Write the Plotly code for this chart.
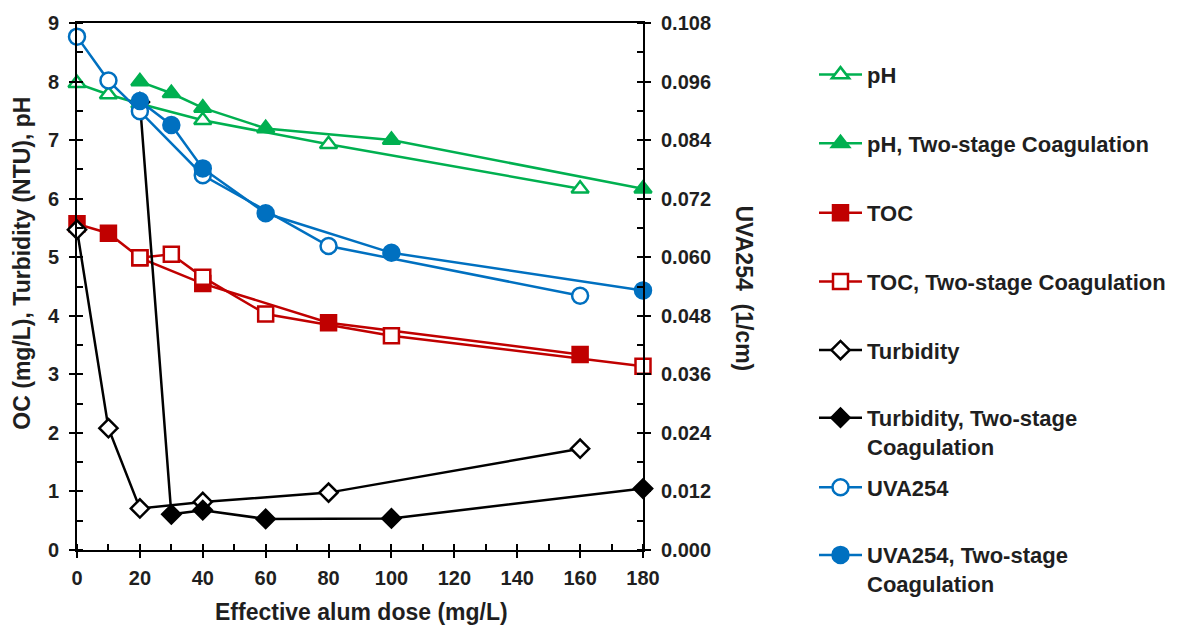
import plotly.graph_objects as go

# Effective alum doses (mg/L)
dose_single = [0, 10, 20, 40, 80, 160]
dose_two = [20, 30, 40, 60, 100, 180]

# pH
ph_single = [7.97, 7.78, 7.62, 7.34, 6.93, 6.17]
ph_two = [8.0, 7.8, 7.55, 7.2, 7.0, 6.17]

# TOC (mg/L)
toc_single = [5.57, 5.41, 4.99, 4.55, 3.88, 3.34]
toc_two = [4.99, 5.05, 4.66, 4.03, 3.66, 3.14]

# Turbidity (NTU)
turb_single = [5.47, 2.08, 0.71, 0.82, 0.98, 1.73]
turb_two = [7.65, 0.61, 0.68, 0.53, 0.54, 1.05]

# UVA254 (1/cm)
uva_single = [0.1052, 0.0962, 0.0899, 0.0768, 0.0623, 0.0521]
uva_two = [0.0920, 0.0871, 0.0782, 0.0690, 0.0609, 0.0532]

GREEN = "#00B050"
RED = "#C00000"
BLUE = "#0070C0"
BLACK = "#000000"
TEXT = "#1F1F1F"
FONT = "Liberation Sans, Arial, sans-serif"

W, H = 1199, 630
L, R, T, B = 77, 643, 20, 550
pw, ph = R - L, B - T

MARKER_SIZE = {"triangle-up": 15, "square": 15, "diamond": 14, "circle": 16}

fig = go.Figure()


def add_series(x, y, name, color, symbol, filled, yaxis, legend):
    fig.add_trace(go.Scatter(
        x=x, y=y, name=name, mode="lines+markers", yaxis=yaxis,
        legend=legend,
        line=dict(color=color, width=2.5),
        marker=dict(symbol=symbol, size=MARKER_SIZE[symbol],
                    color=color if filled else "white",
                    line=dict(color=color, width=2.5)),
        cliponaxis=False,
    ))


add_series(dose_single, ph_single, "pH", GREEN, "triangle-up", False, "y", "legend")
add_series(dose_two, ph_two, "pH, Two-stage Coagulation", GREEN, "triangle-up", True, "y", "legend2")
add_series(dose_single, toc_single, "TOC", RED, "square", True, "y", "legend3")
add_series(dose_two, toc_two, "TOC, Two-stage Coagulation", RED, "square", False, "y", "legend4")
add_series(dose_single, turb_single, "Turbidity", BLACK, "diamond", False, "y", "legend5")
add_series(dose_two, turb_two, "Turbidity, Two-stage<br>Coagulation", BLACK, "diamond", True, "y", "legend6")
add_series(dose_single, uva_single, "UVA254", BLUE, "circle", False, "y2", "legend7")
add_series(dose_two, uva_two, "UVA254, Two-stage<br>Coagulation", BLUE, "circle", True, "y2", "legend8")

tick_font = dict(family=FONT, size=20, color=TEXT, weight="bold")
title_font = dict(family=FONT, size=23, color=TEXT, weight="bold")

# One legend box per series, stacked down the right-hand side
legend_rows = [72, 141, 211, 280, 349, 417, 487, 555]
legends = {}
for i, row in enumerate(legend_rows):
    key = "legend" if i == 0 else f"legend{i + 1}"
    legends[key] = dict(
        x=(814 - L) / pw, xanchor="left",
        y=(B - (row - 21)) / ph, yanchor="top",
        valign="top", bgcolor="rgba(0,0,0,0)", borderwidth=0,
        font=dict(family=FONT, size=22, color=TEXT, weight="bold"),
        itemwidth=43,
    )


def px_x(v):
    return (v - L) / pw


def px_y(v):
    return (B - v) / ph


annotations = [
    dict(text="OC (mg/L), Turbidity (NTU), pH", x=px_x(22), y=px_y(262),
         textangle=-90, font=title_font),
    dict(text="UVA254  (1/cm)", x=px_x(744), y=px_y(287),
         textangle=90, font=title_font),
    dict(text="Effective alum dose (mg/L)", x=px_x(361), y=px_y(612),
         font=title_font),
]
for a in annotations:
    a.update(xref="paper", yref="paper", xanchor="center", yanchor="middle",
             showarrow=False)

fig.update_layout(
    width=W, height=H,
    margin=dict(l=L, r=W - R, t=T, b=H - B, pad=0),
    paper_bgcolor="white", plot_bgcolor="white",
    showlegend=True,
    annotations=annotations,
    xaxis=dict(
        range=[0, 180], dtick=20, tick0=0, showgrid=False, zeroline=False,
        showline=True, linecolor=BLACK, linewidth=2, mirror=True,
        ticks="outside", ticklen=6, tickwidth=2, tickcolor=BLACK,
        minor=dict(dtick=10, ticks="inside", ticklen=6, tickwidth=2, tickcolor=BLACK),
        tickfont=tick_font, ticklabelstandoff=3,
    ),
    xaxis2=dict(
        range=[0, 180], dtick=20, tick0=0, overlaying="x", anchor="y",
        side="bottom", showgrid=False, zeroline=False, showline=False,
        ticks="inside", ticklen=6, tickwidth=2, tickcolor=BLACK,
        showticklabels=False,
    ),
    yaxis=dict(
        range=[0, 9], dtick=1, tick0=0, showgrid=False, zeroline=False,
        showline=True, linecolor=BLACK, linewidth=2,
        ticks="outside", ticklen=6, tickwidth=2, tickcolor=BLACK,
        minor=dict(dtick=0.5, ticks="inside", ticklen=6, tickwidth=2, tickcolor=BLACK),
        tickfont=tick_font, ticklabelstandoff=6,
    ),
    yaxis2=dict(
        range=[0, 0.108], dtick=0.012, tick0=0, overlaying="y", side="right",
        anchor="x", showgrid=False, zeroline=False,
        showline=True, linecolor=BLACK, linewidth=2,
        ticks="outside", ticklen=6, tickwidth=2, tickcolor=BLACK,
        minor=dict(dtick=0.006, ticks="inside", ticklen=6, tickwidth=2, tickcolor=BLACK),
        tickformat=".3f", tickfont=tick_font, ticklabelstandoff=6,
    ),
    yaxis3=dict(
        range=[0, 9], dtick=1, tick0=0, overlaying="y", side="left", anchor="x",
        showgrid=False, zeroline=False, showline=False,
        ticks="inside", ticklen=6, tickwidth=2, tickcolor=BLACK,
        showticklabels=False,
    ),
    yaxis4=dict(
        range=[0, 0.108], dtick=0.012, tick0=0, overlaying="y", side="right",
        anchor="x", showgrid=False, zeroline=False, showline=False,
        ticks="inside", ticklen=6, tickwidth=2, tickcolor=BLACK,
        showticklabels=False,
    ),
    **legends,
)

fig.write_html("out.html")
